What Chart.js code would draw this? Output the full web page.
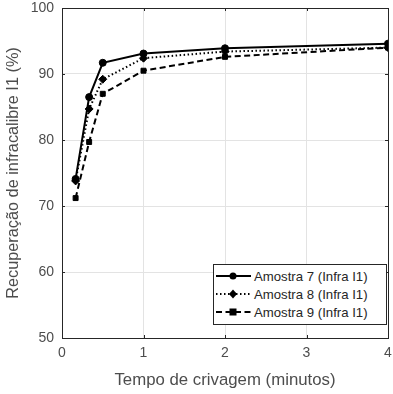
<!DOCTYPE html>
<html lang="pt">
<head>
  <meta charset="UTF-8" />
  <title>Recuperação de infracalibre I1</title>
  <script src="https://cdn.jsdelivr.net/npm/chart.js"></script>
  <style>
    body {
      margin: 0;
      background: white;
      font-family: 'Liberation Sans', Arial, sans-serif;
    }

    .wrap {
      position: relative;
      width: 393px;
      height: 394px;
    }

    .legenda {
      position: absolute;
      left: 213px;
      top: 264px;
      width: 172px;
      height: 57px;
      border: 1px solid #262626;
      background: white;
      font-size: 13.2px;
      color: #262626;
      padding-top: 2px;
      box-sizing: content-box;
    }

    .legenda div {
      display: flex;
      align-items: center;
      height: 18px;
    }

    .legenda svg {
      margin-left: 1px;
      margin-right: 2px;
    }
  </style>
</head>
<body>
  <div class="wrap">
    <canvas id="grafico" width="393" height="394"></canvas>
    <div class="legenda" id="legenda"></div>
  </div>

  <script>
    // tempo em minutos
    const tempos = [0.167, 0.333, 0.5, 1, 2, 4];

    const amostra7 = [74.1, 86.5, 91.7, 93.1, 93.9, 94.6];
    const amostra8 = [73.8, 84.7, 89.2, 92.4, 93.4, 94.0];
    const amostra9 = [71.2, 79.7, 87.0, 90.5, 92.6, 94.0];

    const nomes = ['Amostra 7 (Infra I1)', 'Amostra 8 (Infra I1)', 'Amostra 9 (Infra I1)'];

    const xTicks = [0, 1, 2, 3, 4];
    const yTicks = [50, 60, 70, 80, 90, 100];

    const corEixo = '#262626';
    const corTexto = '#4d4d4d';

    const estilos = [
      { dash: [], ponto: 'circle', raio: 3.5 },
      { dash: [1.5, 2.5], ponto: 'rectRot', raio: 4 },
      { dash: [6, 3.5], ponto: 'rect', raio: 3.5 }
    ];

    const series = [amostra7, amostra8, amostra9];

    const datasets = series.map((vals, i) => ({
      label: nomes[i],
      data: vals.map((v, j) => ({ x: tempos[j], y: v })),
      borderColor: '#000',
      backgroundColor: '#000',
      borderWidth: 2,
      borderDash: estilos[i].dash,
      pointStyle: estilos[i].ponto,
      pointRadius: estilos[i].raio,
      pointBorderWidth: 1,
      showLine: true,
      tension: 0
    }));

    // sem folga extra para os rótulos das pontas
    function semFolga(s) {
      s.paddingTop = 0; s.paddingBottom = 0;
      s.paddingLeft = 0; s.paddingRight = 0;
    }

    // moldura e marcas internas estilo matlab
    const moldura = {
      id: 'moldura',
      afterDraw(chart) {
        const ctx = chart.ctx;
        const a = chart.chartArea;
        const sx = chart.scales.x, sy = chart.scales.y;
        ctx.save();
        ctx.strokeStyle = corEixo;
        ctx.lineWidth = 1;
        ctx.beginPath();
        xTicks.forEach(t => {
          const px = Math.round(sx.getPixelForValue(t)) + 0.5;
          ctx.moveTo(px, a.bottom); ctx.lineTo(px, a.bottom - 3);
          ctx.moveTo(px, a.top); ctx.lineTo(px, a.top + 3);
        });
        yTicks.forEach(t => {
          const py = Math.round(sy.getPixelForValue(t)) + 0.5;
          ctx.moveTo(a.left, py); ctx.lineTo(a.left + 3, py);
          ctx.moveTo(a.right, py); ctx.lineTo(a.right - 3, py);
        });
        ctx.stroke();
        ctx.strokeRect(Math.round(a.left) + 0.5, Math.round(a.top) + 0.5,
          Math.round(a.right - a.left), Math.round(a.bottom - a.top));
        ctx.restore();
      }
    };

    new Chart(document.getElementById('grafico').getContext('2d'), {
      type: 'scatter',
      data: { datasets },
      options: {
        responsive: false,
        animation: false,
        layout: { padding: { top: 8, right: 3, left: 0, bottom: 0 } },
        plugins: {
          legend: { display: false },
          tooltip: { enabled: false }
        },
        scales: {
          x: {
            type: 'linear',
            min: 0, max: 4,
            afterFit: s => { s.height = 56; semFolga(s); },
            afterBuildTicks: s => { s.ticks = xTicks.map(v => ({ value: v })); },
            grid: { color: '#e3e3e3', drawTicks: false },
            border: { display: false },
            ticks: {
              color: corTexto,
              padding: 7,
              font: { family: "'Liberation Sans', Arial", size: 14 }
            },
            title: {
              display: true,
              text: 'Tempo de crivagem (minutos)',
              color: corTexto,
              padding: { top: 1 },
              font: { family: "'Liberation Sans', Arial", size: 16.8 }
            }
          },
          y: {
            min: 50, max: 100,
            afterFit: s => { s.width = 62; semFolga(s); },
            afterBuildTicks: s => { s.ticks = yTicks.map(v => ({ value: v })); },
            grid: { color: '#e3e3e3', drawTicks: false },
            border: { display: false },
            ticks: {
              color: corTexto,
              padding: 8,
              font: { family: "'Liberation Sans', Arial", size: 14 }
            },
            title: {
              display: true,
              text: 'Recuperação de infracalibre I1 (%)',
              color: corTexto,
              padding: { bottom: 2 },
              font: { family: "'Liberation Sans', Arial", size: 16.3 }
            }
          }
        }
      },
      plugins: [moldura]
    });

    // legenda dentro do gráfico
    function amostraSvg(i) {
      const e = estilos[i];
      let marca;
      if (e.ponto === 'circle') marca = '<circle cx="18" cy="6" r="3.5" fill="#000"/>';
      else if (e.ponto === 'rectRot') marca = '<polygon points="18,1.5 22,6 18,10.5 14,6" fill="#000"/>';
      else marca = '<rect x="14.5" y="2.5" width="7" height="7" fill="#000"/>';
      const dash = e.dash.length ? ` stroke-dasharray="${e.dash.join(' ')}"` : '';
      return `<svg width="37" height="12"><line x1="1" y1="6" x2="36" y2="6" stroke="#000" stroke-width="2"${dash}/>${marca}</svg>`;
    }

    document.getElementById('legenda').innerHTML = nomes.map((n, i) =>
      `<div>${amostraSvg(i)}<span>${n}</span></div>`).join('');
  </script>
</body>
</html>
